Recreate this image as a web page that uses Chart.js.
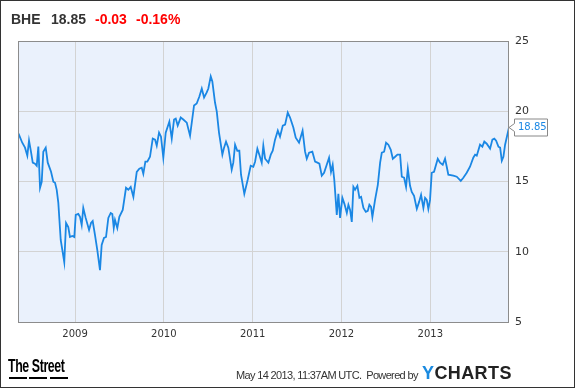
<!DOCTYPE html>
<html>
<head>
<meta charset="utf-8">
<script src="https://cdn.jsdelivr.net/npm/chart.js@4/dist/chart.umd.min.js"></script>
<style>
  body { margin: 0; background: #fff; }
  .frame { position: relative; width: 575px; height: 388px; box-sizing: border-box; border: 1px solid #333; overflow: hidden; font-family: "Liberation Sans", Arial, sans-serif; }
  #chart { position: absolute; left: -1px; top: -1px; }
  .head { position: absolute; top: 10px; font-size: 14px; font-weight: bold; color: #333; }
  .red { color: #f00; }
  .street { position: absolute; left: 7px; top: 354px; font-family: "Liberation Sans Narrow", "Liberation Sans", sans-serif; font-weight: bold; font-size: 19px; color: #000; letter-spacing: -0.6px; transform: scaleX(0.65); transform-origin: left top; }
  .dash { position: absolute; top: 376px; height: 2px; width: 18px; background: #000; }
  .stamp { position: absolute; left: 235px; top: 368px; font-size: 11px; color: #333; letter-spacing: -0.65px; white-space: nowrap; }
  .ych { position: absolute; left: 421px; top: 362px; font-size: 18px; font-weight: bold; color: #222; letter-spacing: 0.4px; }
  .ych span { color: #1a8ae0; }
</style>
</head>
<body>
<div class="frame">
  <canvas id="chart" width="575" height="388"></canvas>
  <span class="head" style="left:10px">BHE</span>
  <span class="head" style="left:50px">18.85</span>
  <span class="head red" style="left:94px">-0.03</span>
  <span class="head red" style="left:135px">-0.16%</span>
  <span class="street">The Street</span>
  <div class="dash" style="left:8px"></div>
  <div class="dash" style="left:28px"></div>
  <div class="dash" style="left:49px"></div>
  <span class="stamp">May 14 2013, 11:37AM UTC.&nbsp; Powered by</span>
  <span class="ych"><span>Y</span>CHARTS</span>
</div>
<script>
// x positions in fractional years, prices in USD
const years = [
  2008.364, 2008.406, 2008.437, 2008.463, 2008.482, 2008.504, 2008.524, 2008.549, 2008.569, 2008.587,
  2008.606, 2008.625, 2008.643, 2008.670, 2008.693, 2008.730, 2008.756, 2008.775, 2008.794, 2008.812,
  2008.839, 2008.879, 2008.899, 2008.924, 2008.943, 2008.969, 2008.992, 2009.008, 2009.037, 2009.056,
  2009.075, 2009.093, 2009.120, 2009.158, 2009.180, 2009.199, 2009.225, 2009.251, 2009.281, 2009.300,
  2009.326, 2009.349, 2009.375, 2009.402, 2009.420, 2009.436, 2009.450, 2009.476, 2009.499, 2009.537,
  2009.574, 2009.600, 2009.627, 2009.657, 2009.695, 2009.724, 2009.751, 2009.769, 2009.792, 2009.814,
  2009.844, 2009.875, 2009.901, 2009.920, 2009.946, 2009.968, 2009.994, 2010.021, 2010.044, 2010.062,
  2010.089, 2010.115, 2010.134, 2010.156, 2010.190, 2010.219, 2010.258, 2010.295, 2010.340, 2010.370,
  2010.400, 2010.427, 2010.453, 2010.483, 2010.501, 2010.528, 2010.546, 2010.576, 2010.596, 2010.621,
  2010.659, 2010.678, 2010.700, 2010.726, 2010.764, 2010.782, 2010.802, 2010.827, 2010.850, 2010.869,
  2010.906, 2010.944, 2010.978, 2011.007, 2011.027, 2011.053, 2011.075, 2011.102, 2011.120, 2011.140,
  2011.177, 2011.204, 2011.226, 2011.252, 2011.283, 2011.308, 2011.339, 2011.365, 2011.395, 2011.421,
  2011.458, 2011.485, 2011.522, 2011.562, 2011.590, 2011.609, 2011.635, 2011.672, 2011.703, 2011.729,
  2011.751, 2011.778, 2011.804, 2011.834, 2011.860, 2011.882, 2011.901, 2011.919, 2011.947, 2011.965,
  2011.984, 2012.010, 2012.033, 2012.060, 2012.078, 2012.097, 2012.116, 2012.134, 2012.153, 2012.179,
  2012.202, 2012.221, 2012.247, 2012.274, 2012.296, 2012.314, 2012.333, 2012.348, 2012.378, 2012.409,
  2012.435, 2012.454, 2012.480, 2012.502, 2012.528, 2012.555, 2012.578, 2012.604, 2012.630, 2012.660,
  2012.679, 2012.705, 2012.727, 2012.747, 2012.772, 2012.791, 2012.817, 2012.848, 2012.874, 2012.896,
  2012.922, 2012.941, 2012.960, 2012.978, 2012.997, 2013.016, 2013.042, 2013.084, 2013.110, 2013.140,
  2013.166, 2013.185, 2013.203, 2013.259, 2013.298, 2013.343, 2013.372, 2013.410, 2013.447, 2013.484,
  2013.504, 2013.523, 2013.560, 2013.586, 2013.608, 2013.635, 2013.673, 2013.699, 2013.721, 2013.741,
  2013.767, 2013.786, 2013.805, 2013.823, 2013.842, 2013.886
];
const prices = [
  18.41, 17.76, 17.41, 16.84, 17.91, 17.12, 16.34, 16.27, 16.12, 17.48,
  14.55, 14.98, 17.12, 17.41, 16.34, 15.69, 14.98, 14.91, 14.41, 13.48,
  10.84, 9.26, 12.05, 11.76, 11.05, 11.12, 11.05, 12.62, 12.69, 12.48,
  11.91, 13.12, 12.41, 11.55, 12.05, 12.19, 11.19, 10.12, 8.69, 10.48,
  10.98, 11.05, 12.41, 12.76, 12.69, 11.69, 12.26, 11.69, 12.48, 12.98,
  14.55, 14.41, 14.62, 13.91, 15.69, 15.91, 15.98, 15.55, 16.41, 16.41,
  16.76, 18.05, 17.98, 17.55, 18.48, 18.19, 16.69, 18.48, 18.91, 19.26,
  18.05, 19.41, 19.48, 18.98, 19.55, 19.41, 19.19, 18.26, 20.41, 20.55,
  21.05, 21.62, 20.98, 21.34, 21.62, 22.48, 22.12, 20.62, 19.98, 18.48,
  16.91, 17.41, 17.84, 17.41, 15.84, 16.34, 17.62, 17.19, 17.19, 15.48,
  14.12, 15.12, 16.12, 16.05, 16.41, 17.34, 16.91, 16.34, 17.55, 16.62,
  16.34, 16.91, 17.19, 17.98, 18.62, 18.19, 18.98, 19.05, 19.91, 19.55,
  18.84, 18.12, 17.76, 18.62, 17.12, 16.62, 17.05, 17.12, 16.41, 16.34,
  16.27, 15.41, 15.62, 16.19, 16.69, 15.69, 16.19, 15.12, 12.62, 14.12,
  12.41, 13.84, 13.41, 12.76, 13.34, 12.98, 12.12, 14.62, 14.41, 14.69,
  13.84, 13.91, 13.12, 12.84, 12.91, 13.34, 13.19, 12.48, 13.69, 14.76,
  16.34, 17.05, 17.12, 17.76, 17.62, 17.26, 16.62, 16.76, 16.91, 16.91,
  15.34, 15.27, 14.62, 15.91, 14.69, 14.26, 13.98, 13.05, 13.55, 14.05,
  13.12, 13.84, 13.69, 13.05, 13.69, 15.62, 15.69, 16.62, 16.34, 16.19,
  16.62, 16.05, 15.48, 15.41, 15.34, 15.05, 15.27, 15.62, 16.05, 16.69,
  16.91, 16.84, 17.62, 17.48, 17.84, 17.69, 17.34, 17.98, 18.05, 17.91,
  17.48, 17.41, 16.48, 16.76, 17.62, 18.85
];
const yearTicks = [2009, 2010, 2011, 2012, 2013];
const priceTicks = [5, 10, 15, 20, 25];

const lineColor = '#1a87e4';

const plotBox = {
  id: 'plotBox',
  beforeDraw(chart) {
    const a = chart.chartArea, ctx = chart.ctx;
    ctx.save();
    ctx.fillStyle = '#eaf1fc';
    ctx.fillRect(a.left, a.top, a.right - a.left, a.bottom - a.top);
    ctx.restore();
  },
  afterDraw(chart) {
    const a = chart.chartArea, ctx = chart.ctx;
    ctx.save();
    ctx.strokeStyle = '#8c8c8c';
    ctx.lineWidth = 1;
    ctx.strokeRect(a.left + 0.5, a.top + 0.5, a.right - a.left - 1, a.bottom - a.top);
    // last value callout
    const meta = chart.getDatasetMeta(0);
    const pt = meta.data[meta.data.length - 1];
    const y = Math.round(pt.y) + 0.5;
    const x0 = a.right, bx = x0 + 5, bw = 33, bh = 17;
    ctx.beginPath();
    ctx.moveTo(x0, y);
    ctx.lineTo(bx + 0.5, y - 4);
    ctx.lineTo(bx + 0.5, y - bh / 2);
    ctx.lineTo(bx + bw + 0.5, y - bh / 2);
    ctx.lineTo(bx + bw + 0.5, y + bh / 2);
    ctx.lineTo(bx + 0.5, y + bh / 2);
    ctx.lineTo(bx + 0.5, y + 4);
    ctx.closePath();
    ctx.fillStyle = '#fff';
    ctx.fill();
    ctx.strokeStyle = '#888';
    ctx.stroke();
    ctx.fillStyle = lineColor;
    ctx.font = '10px "DejaVu Sans"';
    ctx.textBaseline = 'middle';
    ctx.textAlign = 'left';
    ctx.fillText(prices[prices.length - 1].toFixed(2), bx + 4, y);
    ctx.restore();
  }
};

new Chart(document.getElementById('chart'), {
  type: 'line',
  data: {
    datasets: [{
      data: years.map((x, i) => ({ x: x, y: prices[i] })),
      borderColor: lineColor,
      borderWidth: 1.8,
      pointRadius: 0,
      tension: 0,
      fill: false
    }]
  },
  options: {
    responsive: false,
    animation: false,
    layout: { padding: { left: 18, top: 41, right: 0, bottom: 0 } },
    plugins: { legend: { display: false }, tooltip: { enabled: false } },
    scales: {
      x: {
        type: 'linear',
        min: 2008.358,
        max: 2013.886,
        afterBuildTicks: s => { s.ticks = yearTicks.map(v => ({ value: v })); },
        afterFit: s => { s.height = 66; },
        grid: { color: '#d3d3d3', drawTicks: false },
        border: { display: false },
        ticks: {
          padding: 6,
          color: '#333',
          font: { family: 'DejaVu Sans', size: 10 },
          callback: v => String(v)
        }
      },
      y: {
        position: 'right',
        min: 5,
        max: 25,
        afterBuildTicks: s => { s.ticks = priceTicks.map(v => ({ value: v })); },
        afterFit: s => { s.width = 66; },
        grid: { color: '#d3d3d3', drawTicks: false },
        border: { display: false },
        ticks: {
          padding: 6,
          color: '#333',
          font: { family: 'DejaVu Sans', size: 11 },
          callback: v => String(v)
        }
      }
    }
  },
  plugins: [plotBox]
});
</script>
</body>
</html>
